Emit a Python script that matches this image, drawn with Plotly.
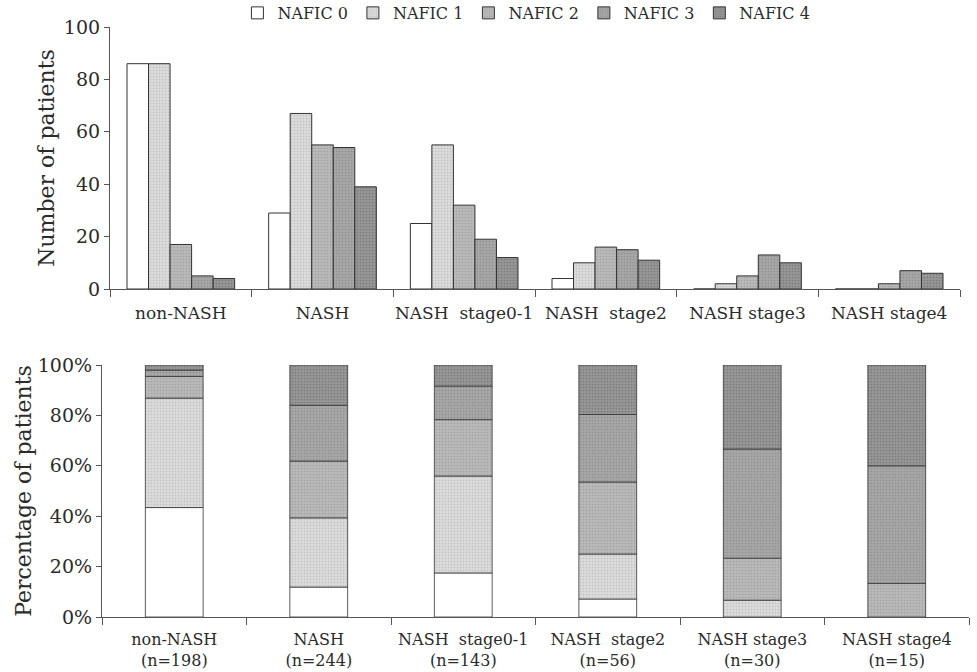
import plotly.graph_objects as go

categories = ["non-NASH", "NASH", "NASH\u00a0 stage0-1", "NASH\u00a0 stage2", "NASH stage3", "NASH stage4"]
series_names = ["NAFIC 0", "NAFIC 1", "NAFIC 2", "NAFIC 3", "NAFIC 4"]
nafic0 = [86, 29, 25, 4, 0, 0]
nafic1 = [86, 67, 55, 10, 2, 0]
nafic2 = [17, 55, 32, 16, 5, 2]
nafic3 = [5, 54, 19, 15, 13, 7]
nafic4 = [4, 39, 12, 11, 10, 6]
series_values = [nafic0, nafic1, nafic2, nafic3, nafic4]
y1_ticks = [0, 20, 40, 60, 80, 100]
y2_ticks = [0, 20, 40, 60, 80, 100]

bg_colors = ["#ffffff", "#dadada", "#b9b9b9", "#a6a6a6", "#969696"]
fg_colors = ["#ffffff", "#a8a8a8", "#8a8a8a", "#7a7a7a", "#5e5e5e"]

FONT = "DejaVu Serif"
TXT = "#2b2b2b"
AX = "#555555"

totals = [sum(v[i] for v in series_values) for i in range(len(categories))]
pct = [[v[i] / totals[i] * 100 for i in range(len(categories))] for v in series_values]

fig = go.Figure()

for k, name in enumerate(series_names):
    patt = dict(shape=".", bgcolor=bg_colors[k], fgcolor=fg_colors[k], size=3, solidity=0.25) if k > 0 else None
    fig.add_trace(go.Bar(
        x=categories, y=series_values[k], name=name,
        xaxis="x", yaxis="y", offsetgroup=f"g{k}",
        marker=dict(color=bg_colors[k], line=dict(color="#333333", width=1), pattern=patt),
        legendgroup=name,
    ))

base = [0.0] * len(categories)
for k, name in enumerate(series_names):
    patt = dict(shape=".", bgcolor=bg_colors[k], fgcolor=fg_colors[k], size=3, solidity=0.25) if k > 0 else None
    fig.add_trace(go.Bar(
        x=categories, y=pct[k], base=list(base), name=name,
        xaxis="x2", yaxis="y2", offsetgroup="stack", width=0.4,
        marker=dict(color=bg_colors[k], line=dict(color="#333333", width=0.8), pattern=patt),
        legendgroup=name, showlegend=False,
    ))
    base = [base[i] + pct[k][i] for i in range(len(categories))]

bottom_ticktext = [f"{c}<br>(n={t})" for c, t in zip(categories, totals)]

W, H = 977, 672
fig.update_layout(
    width=W, height=H,
    margin=dict(l=0, r=0, t=0, b=0, autoexpand=False),
    paper_bgcolor="white", plot_bgcolor="white",
    barmode="group", bargap=0.24, bargroupgap=0,
    font=dict(family=FONT, color=TXT, size=18),
    legend=dict(orientation="h", x=0.243, y=1.006, xanchor="left", yanchor="top",
                font=dict(size=16, family=FONT, color=TXT), itemwidth=30,
                bgcolor="rgba(0,0,0,0)", traceorder="normal", tracegroupgap=0),
    xaxis=dict(domain=[110 / W, 960 / W], anchor="y", type="category",
               categoryorder="array", categoryarray=categories,
               range=[-0.5, 5.5], tickangle=0, automargin=False, ticklabelstandoff=8,
               showline=True, linecolor=AX, linewidth=1.2,
               ticks="outside", tickson="boundaries", ticklen=7, tickcolor=AX,
               showgrid=False, tickfont=dict(size=17, family=FONT, color=TXT)),
    yaxis=dict(domain=[1 - 289 / H, 1 - 27 / H], anchor="x", range=[0, 100], automargin=False,
               tickvals=y1_ticks, showline=True, linecolor=AX, linewidth=1.2,
               ticks="outside", ticklen=5, tickcolor=AX, showgrid=False, zeroline=False,
               tickfont=dict(size=19, family=FONT, color=TXT),
               title=dict(text="Number of patients", font=dict(size=22, family=FONT, color=TXT), standoff=3)),
    xaxis2=dict(domain=[102 / W, 969 / W], anchor="y2", type="category",
                categoryorder="array", categoryarray=categories,
                range=[-0.5, 5.5], tickvals=categories, ticktext=bottom_ticktext, tickangle=0,
                automargin=False, ticklabelstandoff=8,
                showline=True, linecolor=AX, linewidth=1.2,
                ticks="outside", tickson="boundaries", ticklen=7, tickcolor=AX,
                showgrid=False, tickfont=dict(size=16, family=FONT, color=TXT)),
    yaxis2=dict(domain=[1 - 617 / H, 1 - 365 / H], anchor="x2", range=[0, 100], automargin=False,
                tickvals=y2_ticks, ticktext=[f"{v}%" for v in y2_ticks],
                showline=True, linecolor=AX, linewidth=1.2,
                ticks="outside", ticklen=5, tickcolor=AX, showgrid=False, zeroline=False,
                tickfont=dict(size=19, family=FONT, color=TXT),
                title=dict(text="Percentage of patients", font=dict(size=22, family=FONT, color=TXT), standoff=0)),
)

fig.write_html("out.html", config={"displayModeBar": False},
               post_script="document.body.style.margin='0';document.body.style.overflow='hidden';")
